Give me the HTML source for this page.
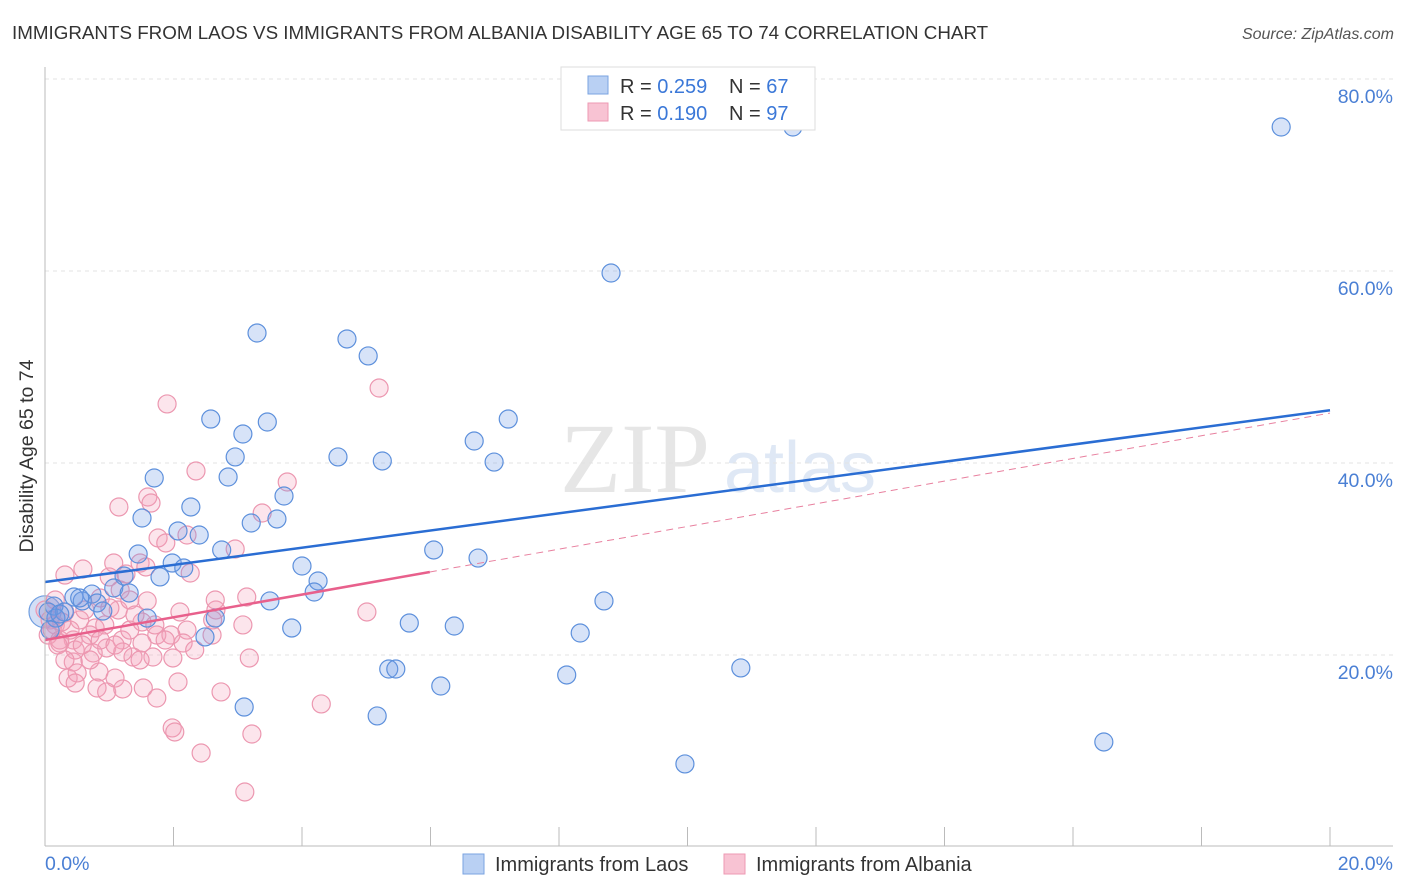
<!DOCTYPE html>
<html><head><meta charset="utf-8"><style>
body{margin:0;background:#fff;font-family:"Liberation Sans",sans-serif;}
svg{display:block}
</style></head><body>
<svg id="chart" width="1406" height="892">
<text x="12" y="39" font-size="18.8" fill="#333">IMMIGRANTS FROM LAOS VS IMMIGRANTS FROM ALBANIA DISABILITY AGE 65 TO 74 CORRELATION CHART</text>
<text x="1394" y="39" font-size="16" fill="#555" font-style="italic" text-anchor="end">Source: ZipAtlas.com</text>
<text x="635" y="492" font-size="100" fill="#e6e6e6" font-family="Liberation Serif,serif" text-anchor="middle">ZIP</text>
<text x="800" y="492" font-size="72" fill="#dfe8f5" text-anchor="middle">atlas</text>
<g id="grid"></g>
<g id="marks"></g>
<g id="lines"></g>
<line x1="45" y1="67" x2="45" y2="846" stroke="#bbb"/>
<line x1="45" y1="846" x2="1393" y2="846" stroke="#bbb"/>
<text x="33" y="456" font-size="19.5" fill="#333" transform="rotate(-90 33 456)" text-anchor="middle">Disability Age 65 to 74</text>
<text x="45" y="870" font-size="19.5" fill="#4a7fd4">0.0%</text>
<text x="1393" y="870" font-size="19.5" fill="#4a7fd4" text-anchor="end">20.0%</text>
<g>
<rect x="561" y="67" width="254" height="63" fill="#fff" stroke="#ddd"/>
<rect x="588" y="76" width="20" height="18" fill="#b9d0f3" stroke="#7aa3e0"/>
<rect x="588" y="103" width="20" height="18" fill="#f8c3d3" stroke="#ee9ab3"/>
<text x="620" y="93" font-size="20" fill="#333">R = <tspan fill="#3b78d8">0.259</tspan></text>
<text x="729" y="93" font-size="20" fill="#333">N = <tspan fill="#3b78d8">67</tspan></text>
<text x="620" y="120" font-size="20" fill="#333">R = <tspan fill="#3b78d8">0.190</tspan></text>
<text x="729" y="120" font-size="20" fill="#333">N = <tspan fill="#3b78d8">97</tspan></text>
</g>
<g>
<rect x="463" y="854" width="21" height="20" fill="#b9d0f3" stroke="#7aa3e0"/>
<text x="495" y="871" font-size="20" fill="#333">Immigrants from Laos</text>
<rect x="724" y="854" width="21" height="20" fill="#f8c3d3" stroke="#ee9ab3"/>
<text x="756" y="871" font-size="20" fill="#333">Immigrants from Albania</text>
</g>
</svg>
<script>
const yTicks=[20,40,60,80];
const xTicks=[0,2,4,6,8,10,12,14,16,18,20];
const laosX=[11.64,19.24,8.81,3.30,4.70,5.03,2.58,3.46,7.21,3.08,6.68,4.56,5.25,6.99,2.96,2.85,1.70,3.72,2.27,1.51,3.21,3.61,2.07,2.40,6.05,2.75,1.45,6.74,1.98,2.16,4.00,1.79,1.23,4.25,1.07,1.31,4.19,0.73,0.45,0.58,0.81,3.50,8.70,0.14,0.90,0.30,0.17,2.65,1.59,3.84,5.67,6.37,8.33,2.49,5.35,5.46,10.83,8.12,6.16,3.10,5.17,16.48,9.96,0.05,0.23,0.08,0.54];
const laosY=[75.0,75.0,59.79,53.54,52.92,51.15,44.58,44.27,44.58,43.02,42.29,40.63,40.21,40.10,40.63,38.54,38.44,36.56,35.42,34.27,33.75,34.17,32.92,32.50,30.94,30.94,30.52,30.10,29.58,29.06,29.27,28.13,28.23,27.71,26.98,26.46,26.56,26.35,26.04,25.63,25.42,25.63,25.63,25.10,24.58,24.48,23.85,23.85,23.85,22.81,23.33,23.02,22.29,21.88,18.54,18.54,18.65,17.92,16.77,14.58,13.65,10.94,8.65,24.48,24.27,22.60,25.94];
const albX=[5.20,1.90,2.35,3.77,1.60,1.65,1.15,3.38,1.76,1.88,2.21,2.96,1.07,0.59,0.31,1.48,1.57,1.26,1.00,2.26,1.59,1.14,3.14,2.10,2.66,5.01,1.51,3.08,2.21,0.54,0.78,1.74,1.96,2.60,2.15,1.20,1.51,0.96,0.44,0.23,1.99,1.68,1.37,3.18,0.75,0.44,1.21,0.84,0.36,0.50,0.47,0.81,1.09,0.96,1.21,1.53,1.74,2.07,2.74,4.30,1.98,2.02,3.22,2.43,3.11,0,0.08,0.16,0.05,0.23,0.11,0.31,0.39,0.62,0.70,0.20,0.86,1.32,1.17,1.01,0.47,0.31,0.70,1.40,1.71,0.93,0.26,0.58,1.32,2.33,2.61,0.86,1.09,1.48,1.87,2.65,0.16];
const albY=[47.81,46.15,39.17,38.02,36.46,35.83,35.42,34.79,32.19,31.67,32.50,31.04,29.58,28.96,28.33,29.58,29.17,28.44,28.13,28.54,25.63,24.69,26.04,24.48,24.69,24.48,23.44,23.13,22.60,23.65,22.81,22.08,22.08,22.08,21.25,21.56,21.25,20.73,21.56,21.25,19.69,19.79,19.79,19.69,20.21,19.27,20.31,18.23,17.60,18.13,17.08,16.56,17.60,16.15,16.46,16.56,15.52,17.19,16.15,14.90,12.40,11.98,11.77,9.79,5.73,24.69,23.65,23.13,22.08,21.56,22.60,24.48,22.60,24.69,22.08,21.04,25.94,25.73,26.77,24.90,20.52,19.48,19.48,24.17,23.13,23.13,23.44,21.04,22.60,20.52,23.65,21.56,21.04,19.48,21.56,25.73,25.73];
const laosTrend=[27.6,45.5];
const albTrend=[21.56,28.65,45.2];
const albSolidEnd=5.99;
const NS='http://www.w3.org/2000/svg';
const sx=v=>45+v/20*1285;
const sy=v=>847-v/20*192;
function mk(tag,at,parent){const e=document.createElementNS(NS,tag);for(const k in at)e.setAttribute(k,at[k]);parent.appendChild(e);return e;}
const grid=document.getElementById('grid'),marks=document.getElementById('marks'),lines=document.getElementById('lines');
yTicks.forEach(t=>{
 const l=mk('line',{x1:45,x2:1393,y1:sy(t),y2:sy(t),stroke:'#e3e3e3','stroke-dasharray':'4,4'},grid);
 
 
 const tx=mk('text',{x:1393,y:sy(t)+24,'font-size':19.5,fill:'#4a7fd4','text-anchor':'end'},grid);
 tx.textContent=t.toFixed(1)+'%';
 
 
});
xTicks.forEach(t=>{
 const l=mk('line',{x1:sx(t),x2:sx(t),y1:827,y2:846,stroke:'#bbb'},grid);
 
 
});
const big=mk('circle',{cx:sx(0),cy:sy(24.5),r:16,fill:'rgba(110,150,225,0.3)',stroke:'#6f9ee0','stroke-width':1.2},marks);


albX.forEach((x,i)=>{
 const c=mk('circle',{cx:sx(x),cy:sy(albY[i]),r:9,fill:'rgba(244,160,185,0.28)',stroke:'#ec97b0','stroke-width':1.2},marks);
 
 
});
laosX.forEach((x,i)=>{
 const c=mk('circle',{cx:sx(x),cy:sy(laosY[i]),r:9,fill:'rgba(110,155,230,0.28)',stroke:'#5d90dc','stroke-width':1.2},marks);
 
 
});
const bl=mk('line',{x1:sx(0),y1:sy(laosTrend[0]),x2:sx(20),y2:sy(laosTrend[1]),stroke:'#2a6dd3','stroke-width':2.5},lines);


const pl=mk('line',{x1:sx(0),y1:sy(albTrend[0]),x2:sx(albSolidEnd),y2:sy(albTrend[1]),stroke:'#e8608c','stroke-width':2.5},lines);


const pd=mk('line',{x1:sx(albSolidEnd),y1:sy(albTrend[1]),x2:sx(20),y2:sy(albTrend[2]),stroke:'#e8809f','stroke-width':1,'stroke-dasharray':'7,5'},lines);


</script>
</body></html>
